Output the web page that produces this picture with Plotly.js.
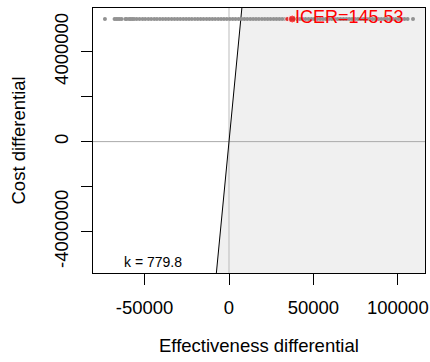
<!DOCTYPE html>
<html>
<head>
<meta charset="utf-8">
<script src="https://cdn.plot.ly/plotly-3.0.1.min.js"></script>
<style>html,body{margin:0;padding:0;background:#fff;}#chart{width:430px;height:362px;}</style>
</head>
<body>
<div id="chart"></div>
<script>
// Simulated effectiveness differentials
var simEffect = [-73500, -67800, -66800, -65800, -64800, -63600, -61400, -60600, -59200, -58200, -57200, -56200,
  -54700, -53000, -51200, -49600, -47800, -46100, -44300, -42700, -40900, -39200, -37500,
  -35800, -34000, -32300, -30600, -28900, -27100, -25400, -23700, -22000, -20200, -18500,
  -16800, -15100, -13300, -11600, -9900, -8200, -6400, -4700, -3000, -1300, 500, 2200,
  3900, 5700, 7400, 9100, 10800, 12600, 14300, 16000, 17700, 19500, 21200, 22900, 24600,
  26400, 28100, 29800, 31500, 33300, 35000, 36700, 38400, 40200, 41900, 43600, 45300,
  47100, 48800, 50500, 52200, 54000, 55700, 57400, 59100, 60900, 62600, 64300, 66000,
  67800, 69500, 71200, 72900, 74700, 76400, 78100, 79800, 81600, 83300, 85000, 86700,
  88500, 90200, 91900, 93600, 95400, 97100, 98800, 100500, 102300, 104000, 105800, 109000];
// Simulated cost differentials (all on the same band in the picture)
var simCost = [5450000, 5450000, 5450000, 5450000, 5450000, 5450000, 5450000, 5450000, 5450000, 5450000, 5450000, 5450000,
  5450000, 5450000, 5450000, 5450000, 5450000, 5450000, 5450000, 5450000, 5450000, 5450000, 5450000,
  5450000, 5450000, 5450000, 5450000, 5450000, 5450000, 5450000, 5450000, 5450000, 5450000, 5450000,
  5450000, 5450000, 5450000, 5450000, 5450000, 5450000, 5450000, 5450000, 5450000, 5450000, 5450000, 5450000,
  5450000, 5450000, 5450000, 5450000, 5450000, 5450000, 5450000, 5450000, 5450000, 5450000, 5450000, 5450000, 5450000,
  5450000, 5450000, 5450000, 5450000, 5450000, 5450000, 5450000, 5450000, 5450000, 5450000, 5450000, 5450000,
  5450000, 5450000, 5450000, 5450000, 5450000, 5450000, 5450000, 5450000, 5450000, 5450000, 5450000, 5450000,
  5450000, 5450000, 5450000, 5450000, 5450000, 5450000, 5450000, 5450000, 5450000, 5450000, 5450000, 5450000,
  5450000, 5450000, 5450000, 5450000, 5450000, 5450000, 5450000, 5450000, 5450000, 5450000, 5450000, 5450000];
// Red points: secondary point and mean ICER point
var redEffect = [34500, 37450];
var redCost = [5450000, 5450000];
var icerLabel = "ICER=145.53";
var kValue = 779.8;
var kLabel = "k = 779.8";

var xRange = [-80570, 116110];
var yRange = [-5840000, 5940000];
var xTickVals = [-50000, 0, 50000, 100000];
var xTickText = ["-50000", "0", "50000", "100000"];
var yTickVals = [-4000000, -2000000, 0, 2000000, 4000000];
var yTickText = ["-4000000", "", "0", "", "4000000"];

var font = "Liberation Sans, Arial, Helvetica, sans-serif";

var xBot = yRange[0] / kValue, xTop = yRange[1] / kValue;
var traces = [
  {x: [xBot, xTop, xRange[1], xRange[1], xBot], y: [yRange[0], yRange[1], yRange[1], yRange[0], yRange[0]],
   mode: 'lines', fill: 'toself', fillcolor: '#f0f0f0', line: {width: 0}, hoverinfo: 'skip'},
  {x: xRange, y: [0, 0], mode: 'lines', line: {color: '#aaaaaa', width: 1}, hoverinfo: 'skip'},
  {x: [0, 0], y: yRange, mode: 'lines', line: {color: '#bbbbbb', width: 1}, hoverinfo: 'skip'},
  {x: [xBot, xTop], y: [yRange[0], yRange[1]], mode: 'lines', line: {color: '#000000', width: 1}, hoverinfo: 'skip'},
  {x: simEffect, y: simCost, mode: 'markers', marker: {color: '#929292', size: 4}},
  {x: redEffect, y: redCost, mode: 'markers', marker: {color: '#ff0000', size: [5, 8]}}
];

var layout = {
  width: 430, height: 362,
  margin: {l: 93, r: 5, t: 8, b: 89},
  paper_bgcolor: '#ffffff', plot_bgcolor: '#ffffff',
  showlegend: false,
  font: {family: font, size: 18.5, color: '#000'},
  xaxis: {range: xRange, tickvals: xTickVals, ticktext: xTickText, ticks: 'outside', ticklen: 11,
    tickcolor: '#000', showgrid: false, zeroline: false, showline: true, mirror: true,
    linecolor: '#000', linewidth: 1, tickfont: {size: 18.5}, ticklabelstandoff: 7},
  yaxis: {range: yRange, tickvals: yTickVals, ticktext: yTickText, ticks: 'outside', ticklen: 11,
    tickcolor: '#000', showgrid: false, zeroline: false, showline: true, mirror: true,
    linecolor: '#000', linewidth: 1, tickfont: {size: 18.5}, tickangle: -90, ticklabelstandoff: 6},
  annotations: [
    {x: redEffect[1], y: redCost[1], xref: 'x', yref: 'y', text: icerLabel, showarrow: false,
     xanchor: 'left', yanchor: 'middle', xshift: 1, yshift: 2, font: {size: 18, color: '#ff0000'}},
    {x: (xRange[0] + 0) / 2 - 4500, y: yRange[0], xref: 'x', yref: 'y', text: kLabel, showarrow: false,
     xanchor: 'center', yanchor: 'bottom', yshift: 1, font: {size: 14, color: '#000'}},
    {x: 0.5, y: -0.2717, xref: 'paper', yref: 'paper', text: 'Effectiveness differential', showarrow: false,
     xanchor: 'center', yanchor: 'middle', font: {size: 18.5}},
    {x: -0.2229, y: 0.5, xref: 'paper', yref: 'paper', text: 'Cost differential', showarrow: false,
     textangle: -90, xanchor: 'center', yanchor: 'middle', font: {size: 18.5}}
  ]
};
Plotly.newPlot('chart', traces, layout, {displayModeBar: false, staticPlot: true});
</script>
</body>
</html>
